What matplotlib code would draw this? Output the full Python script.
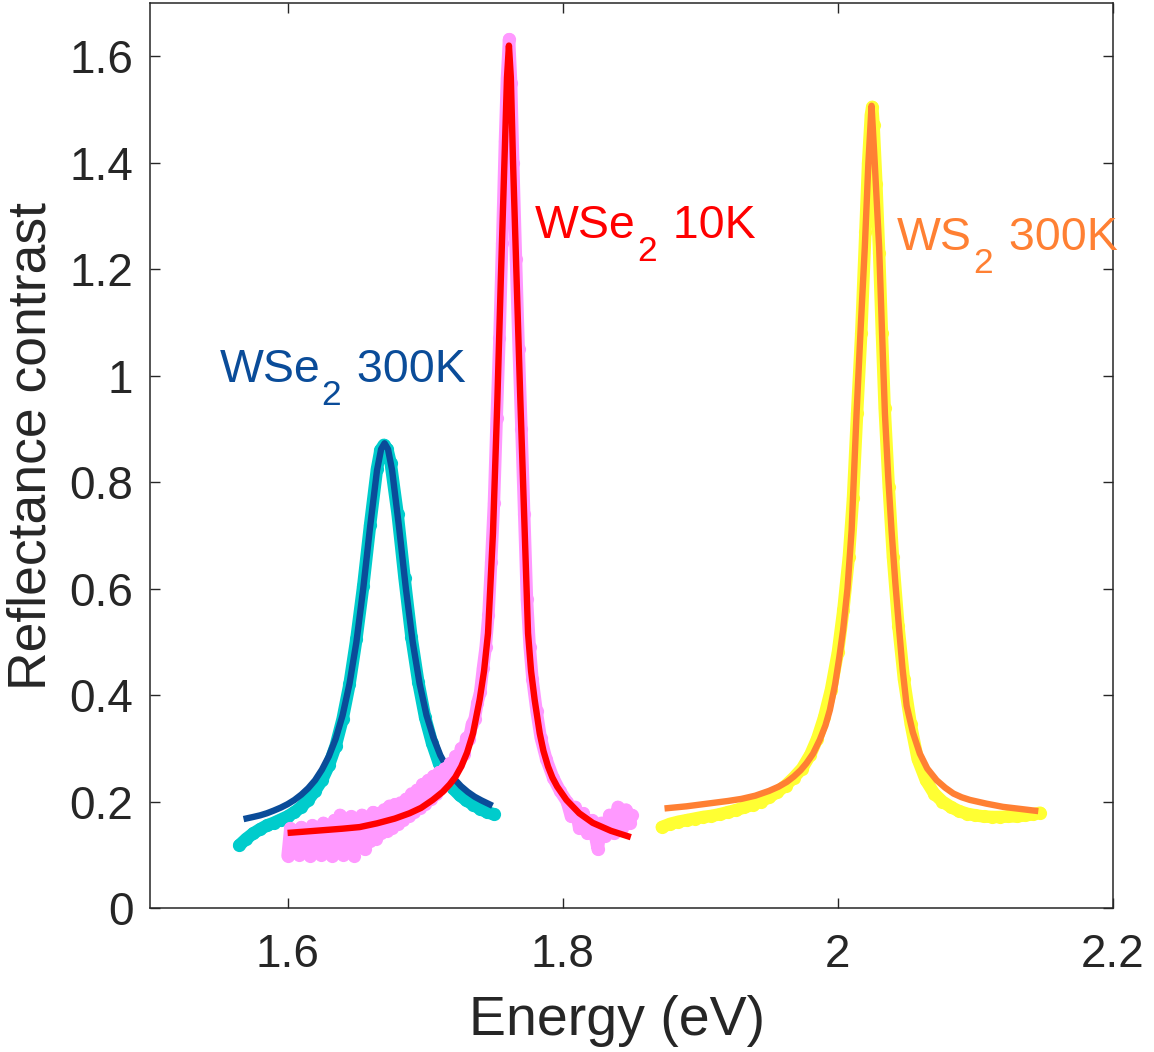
import matplotlib
matplotlib.use("Agg")
import matplotlib.pyplot as plt
from matplotlib.ticker import FuncFormatter

plt.rcParams['font.family'] = ['Liberation Sans', 'DejaVu Sans']

# ---------------- data ----------------
# WSe2 300K : measured data
wse2_300k_x = [1.565, 1.570, 1.575, 1.580, 1.585, 1.590, 1.595, 1.600, 1.605, 1.610,
               1.615, 1.620, 1.625, 1.630, 1.635, 1.640, 1.645, 1.650, 1.655, 1.660,
               1.665, 1.6675, 1.670, 1.6725, 1.675, 1.680, 1.685, 1.690, 1.695, 1.700,
               1.705, 1.710, 1.715, 1.720, 1.725, 1.730, 1.735, 1.740, 1.745, 1.750]
wse2_300k_y = [0.118, 0.130, 0.140, 0.148, 0.155, 0.160, 0.166, 0.172, 0.180, 0.190,
               0.203, 0.220, 0.240, 0.268, 0.305, 0.355, 0.420, 0.505, 0.605, 0.720,
               0.825, 0.860, 0.870, 0.862, 0.835, 0.740, 0.620, 0.510, 0.425, 0.358,
               0.310, 0.272, 0.245, 0.225, 0.212, 0.202, 0.194, 0.186, 0.180, 0.176]
# WSe2 300K : fit
wse2_300k_fit_x = [1.568, 1.575, 1.580, 1.585, 1.590, 1.595, 1.600, 1.605, 1.610, 1.615,
                   1.620, 1.625, 1.630, 1.635, 1.640, 1.645, 1.650, 1.655, 1.660, 1.665,
                   1.668, 1.6705, 1.673, 1.676, 1.681, 1.686, 1.691, 1.696, 1.701, 1.706,
                   1.711, 1.716, 1.721, 1.726, 1.731, 1.736, 1.741, 1.745, 1.749]
wse2_300k_fit_y = [0.167, 0.171, 0.174, 0.178, 0.183, 0.1885, 0.195, 0.203, 0.213, 0.225,
                   0.240, 0.260, 0.285, 0.318, 0.362, 0.421, 0.499, 0.600, 0.716, 0.822,
                   0.862, 0.873, 0.862, 0.822, 0.716, 0.600, 0.499, 0.421, 0.362, 0.320,
                   0.287, 0.263, 0.243, 0.229, 0.218, 0.209, 0.202, 0.197, 0.192]

# WSe2 10K : measured data
wse2_10k_x = [1.600, 1.602, 1.604, 1.606, 1.608, 1.610, 1.612, 1.614, 1.616, 1.618,
              1.620, 1.622, 1.624, 1.626, 1.628, 1.630, 1.632, 1.634, 1.636, 1.638,
              1.640, 1.642, 1.644, 1.646, 1.648, 1.650, 1.652, 1.654, 1.656, 1.658,
              1.660, 1.662, 1.664, 1.666, 1.668, 1.670, 1.672, 1.674, 1.676, 1.678,
              1.680, 1.682, 1.684, 1.686, 1.688, 1.690, 1.692, 1.694, 1.696, 1.698,
              1.700, 1.702, 1.704, 1.706, 1.708, 1.710, 1.712, 1.714, 1.716, 1.718,
              1.720, 1.722, 1.724, 1.726, 1.728, 1.730, 1.732, 1.734, 1.736, 1.738,
              1.740, 1.742, 1.744, 1.746, 1.748, 1.750, 1.752, 1.754, 1.756, 1.758,
              1.7595, 1.761, 1.7625, 1.764, 1.766, 1.768, 1.770, 1.772, 1.774, 1.776,
              1.778, 1.781, 1.784, 1.788, 1.793, 1.798, 1.803, 1.806, 1.809, 1.812,
              1.815, 1.818, 1.821, 1.824, 1.8255, 1.828, 1.831, 1.834, 1.837, 1.840,
              1.843, 1.846, 1.849, 1.850]
wse2_10k_y = [0.098, 0.150, 0.110, 0.145, 0.100, 0.152, 0.118, 0.140, 0.098, 0.155,
              0.108, 0.148, 0.100, 0.160, 0.115, 0.150, 0.098, 0.165, 0.105, 0.175,
              0.100, 0.160, 0.112, 0.172, 0.098, 0.165, 0.120, 0.175, 0.110, 0.168,
              0.125, 0.180, 0.130, 0.178, 0.140, 0.185, 0.145, 0.192, 0.150, 0.195,
              0.158, 0.198, 0.165, 0.205, 0.172, 0.215, 0.180, 0.222, 0.188, 0.232,
              0.195, 0.240, 0.205, 0.248, 0.215, 0.255, 0.228, 0.262, 0.240, 0.272,
              0.255, 0.285, 0.270, 0.300, 0.290, 0.320, 0.318, 0.345, 0.355, 0.385,
              0.405, 0.450, 0.490, 0.550, 0.650, 0.760, 0.920, 1.070, 1.250, 1.440,
              1.560, 1.632, 1.550, 1.400, 1.220, 1.050, 0.900, 0.740, 0.580, 0.490,
              0.430, 0.370, 0.320, 0.280, 0.245, 0.220, 0.200, 0.172, 0.190, 0.150,
              0.178, 0.140, 0.165, 0.130, 0.110, 0.160, 0.135, 0.175, 0.140, 0.190,
              0.150, 0.185, 0.160, 0.175]
# WSe2 10K : fit
wse2_10k_fit_x = [1.600, 1.620, 1.640, 1.6524, 1.665, 1.678, 1.6887, 1.697, 1.7055, 1.7127,
                  1.7178, 1.722, 1.7263, 1.7305, 1.7348, 1.7396, 1.7428, 1.7457, 1.7493, 1.7525,
                  1.755, 1.7576, 1.7595, 1.7609, 1.7623, 1.7639, 1.7665, 1.7692, 1.7724, 1.7748,
                  1.777, 1.7796, 1.7833, 1.786, 1.7893, 1.7925, 1.7960, 1.8027, 1.8120, 1.8218,
                  1.8350, 1.8495]
wse2_10k_fit_y = [0.141, 0.145, 0.149, 0.152, 0.159, 0.168, 0.178, 0.188, 0.203, 0.218,
                  0.232, 0.246, 0.266, 0.292, 0.328, 0.391, 0.445, 0.516, 0.704, 0.954,
                  1.180, 1.399, 1.560, 1.620, 1.560, 1.399, 1.180, 0.954, 0.704, 0.516,
                  0.445, 0.391, 0.328, 0.295, 0.266, 0.245, 0.228, 0.203, 0.178, 0.160,
                  0.145, 0.133]

# WS2 300K : measured data
ws2_300k_x = [1.872, 1.878, 1.884, 1.890, 1.896, 1.902, 1.908, 1.914, 1.920, 1.926,
              1.932, 1.938, 1.944, 1.950, 1.956, 1.962, 1.968, 1.974, 1.980, 1.985,
              1.990, 1.995, 2.000, 2.004, 2.008, 2.011, 2.014, 2.017, 2.020, 2.022,
              2.024, 2.025, 2.026, 2.028, 2.030, 2.032, 2.034, 2.037, 2.040, 2.044,
              2.048, 2.053, 2.058, 2.064, 2.070, 2.076, 2.082, 2.088, 2.094, 2.100,
              2.106, 2.112, 2.118, 2.124, 2.130, 2.136, 2.142, 2.147]
ws2_300k_y = [0.152, 0.158, 0.162, 0.165, 0.168, 0.171, 0.173, 0.176, 0.180, 0.184,
              0.189, 0.194, 0.200, 0.208, 0.218, 0.230, 0.245, 0.262, 0.288, 0.318,
              0.358, 0.410, 0.480, 0.560, 0.660, 0.770, 0.930, 1.080, 1.270, 1.400,
              1.490, 1.505, 1.470, 1.360, 1.230, 1.080, 0.940, 0.790, 0.660, 0.530,
              0.430, 0.345, 0.280, 0.240, 0.215, 0.200, 0.190, 0.182, 0.177, 0.174,
              0.172, 0.171, 0.171, 0.172, 0.172, 0.174, 0.176, 0.179]
# WS2 300K : fit
ws2_300k_fit_x = [1.874, 1.890, 1.905, 1.920, 1.930, 1.940, 1.950, 1.957, 1.963, 1.968,
                  1.973, 1.9772, 1.982, 1.9869, 1.991, 1.9942, 1.998, 2.001, 2.0038, 2.007,
                  2.010, 2.0136, 2.0166, 2.0196, 2.0222, 2.0245, 2.0268, 2.030, 2.032, 2.0342,
                  2.0366, 2.039, 2.0418, 2.0446, 2.047, 2.050, 2.0545, 2.0596, 2.065, 2.0718,
                  2.078, 2.084, 2.090, 2.096, 2.108, 2.120, 2.133, 2.1457]
ws2_300k_fit_y = [0.187, 0.191, 0.196, 0.201, 0.205, 0.211, 0.220, 0.228, 0.237, 0.247,
                  0.259, 0.272, 0.290, 0.316, 0.343, 0.372, 0.420, 0.470, 0.522, 0.600,
                  0.710, 0.929, 1.090, 1.242, 1.400, 1.507, 1.400, 1.242, 1.090, 0.929,
                  0.810, 0.710, 0.610, 0.522, 0.450, 0.380, 0.330, 0.290, 0.262, 0.240,
                  0.226, 0.215, 0.208, 0.203, 0.196, 0.190, 0.186, 0.182]

x_ticks = [1.6, 1.8, 2.0, 2.2]
y_ticks = [0, 0.2, 0.4, 0.6, 0.8, 1.0, 1.2, 1.4, 1.6]

# ---------------- styling ----------------
c_cyan = '#00CCCC'
c_blue = '#0A4C99'
c_pink = '#FF99FF'
c_red = '#FF0000'
c_yellow = '#FFFF33'
c_orange = '#FF8033'
c_axis = '#262626'

fig = plt.figure(figsize=(11.54, 10.52), dpi=100)
W, H = 1154, 1052
ax = fig.add_axes([150 / W, 1 - 908 / H, (1113 - 150) / W, (908 - 3) / H])

data_kw = dict(marker='o', ms=9.5, mec='none', lw=9,
               solid_joinstyle='round', solid_capstyle='round')
fit_kw = dict(lw=4.6, solid_joinstyle='round', solid_capstyle='butt')

ax.plot(wse2_300k_x, wse2_300k_y, color=c_cyan, mfc=c_cyan, **data_kw)
ax.plot(wse2_300k_fit_x, wse2_300k_fit_y, color=c_blue, **fit_kw)
ax.plot(wse2_10k_x, wse2_10k_y, color=c_pink, mfc=c_pink, **data_kw)
ax.plot(wse2_10k_fit_x, wse2_10k_fit_y, color=c_red, **fit_kw)
ax.plot(ws2_300k_x, ws2_300k_y, color=c_yellow, mfc=c_yellow, **data_kw)
ax.plot(ws2_300k_fit_x, ws2_300k_fit_y, color=c_orange, **fit_kw)

ax.set_xlim(1.5, 2.2)
ax.set_ylim(0, 1.7)
ax.set_xticks(x_ticks)
ax.set_yticks(y_ticks)
fmt = FuncFormatter(lambda v, p: ('%g' % round(v, 3)))
ax.xaxis.set_major_formatter(fmt)
ax.yaxis.set_major_formatter(fmt)
ax.tick_params(direction='in', length=7, width=1.0, top=True, right=True,
               color=c_axis, labelcolor=c_axis, labelsize=33)
ax.tick_params(axis='x', pad=18)
ax.tick_params(axis='y', pad=12)
for s in ax.spines.values():
    s.set_color(c_axis)
    s.set_linewidth(1.1)

fig.text(617 / W, 1 - 1021 / H, 'Energy (eV)', fontsize=40, color=c_axis,
         ha='center', va='center')
fig.text(32 / W, 1 - 446 / H, 'Reflectance contrast', fontsize=38.5, color=c_axis,
         ha='center', va='center', rotation=90)


def label(x, y, main, sub, rest, color):
    t1 = ax.text(x, y, main, fontsize=33.5, color=color, ha='left', va='baseline')
    t2 = ax.annotate(sub, xy=(1, 0), xycoords=t1, xytext=(1, -9.5),
                     textcoords='offset points', fontsize=25.5, color=color,
                     ha='left', va='baseline')
    ax.annotate(rest, xy=(1, 0), xycoords=(t2, t1), xytext=(2, 0),
                textcoords='offset points', fontsize=33.5, color=color,
                ha='left', va='bottom')


label(1.5505, 0.988, 'WSe', '2', ' 300K', c_blue)
label(1.7799, 1.258, 'WSe', '2', ' 10K', c_red)
label(2.0429, 1.236, 'WS', '2', ' 300K', c_orange)

fig.savefig('out.png', dpi=100)
